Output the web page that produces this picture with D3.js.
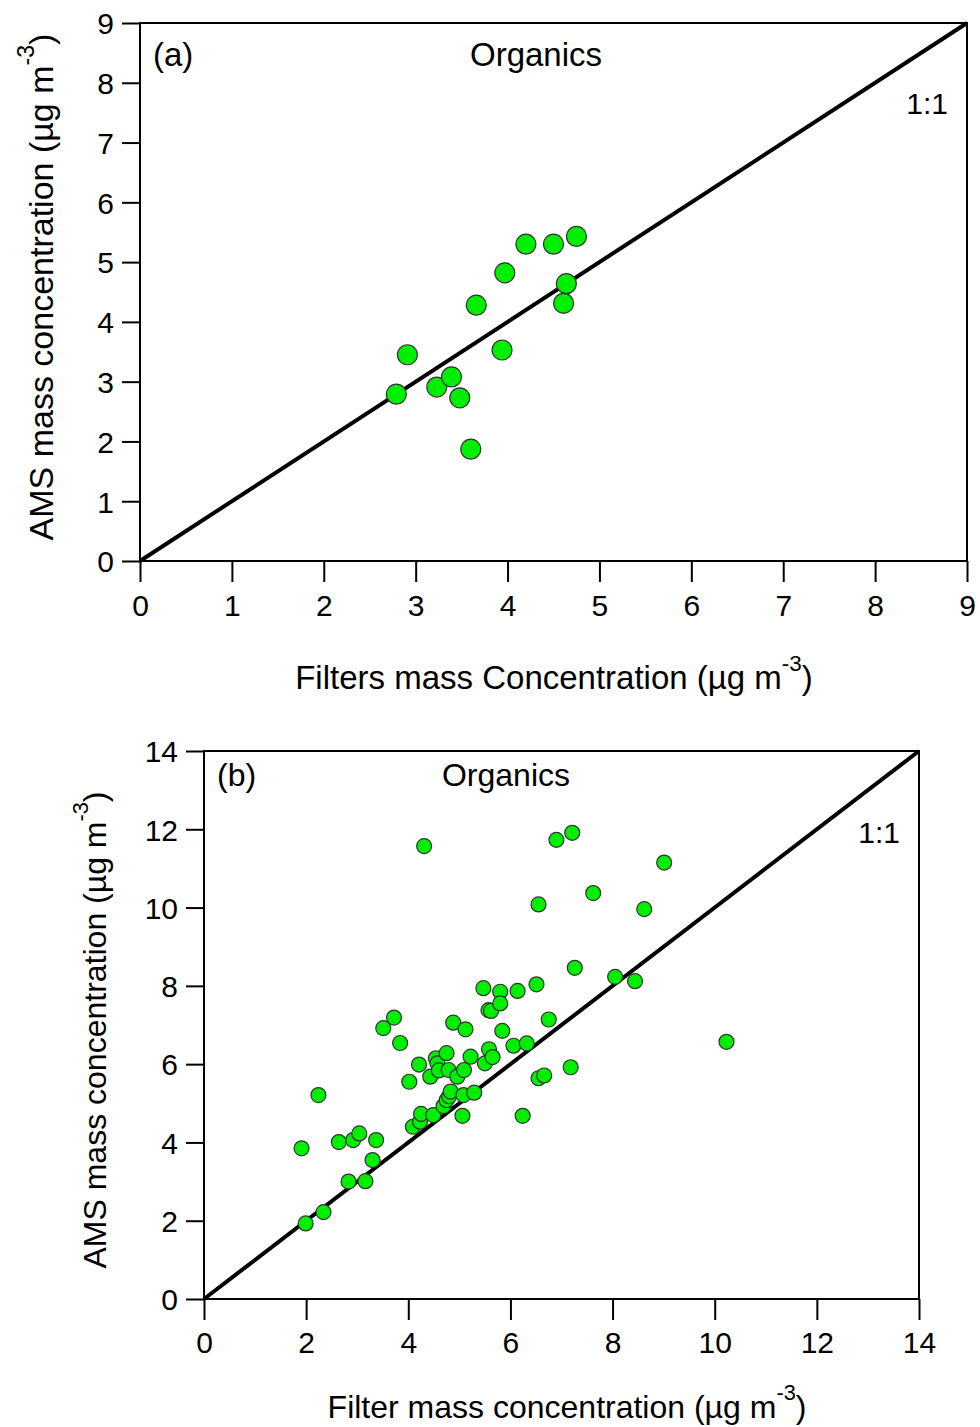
<!DOCTYPE html>
<html>
<head>
<meta charset="utf-8">
<script src="https://cdn.jsdelivr.net/npm/d3@7"></script>
<style>
  body { margin: 0; background: #fff; }
  svg { display: block; font-family: "Liberation Sans", Arial, sans-serif; }
  .tick text { font-size: 30px; fill: #000; }
</style>
</head>
<body>
<div class="chart"></div>
<script>
var svgWidth = 980;
var svgHeight = 1427;

// panel (a): filter vs AMS organics
var filterA = [2.79, 2.91, 3.23, 3.39, 3.48, 3.60, 3.66, 3.94, 3.97, 4.20, 4.50, 4.75, 4.64, 4.61];
var amsA    = [2.79, 3.45, 2.91, 3.08, 2.73, 1.87, 4.28, 3.53, 4.82, 5.30, 5.30, 5.43, 4.64, 4.31];
var ticksA = [0, 1, 2, 3, 4, 5, 6, 7, 8, 9];

// panel (b)
var filterB = [1.91, 1.99, 2.24, 2.34, 2.64, 2.83, 2.92, 3.04, 3.16, 3.30,
               3.37, 3.51, 3.72, 3.84, 4.02, 4.09, 4.21, 4.23, 4.25, 4.31,
               4.43, 4.49, 4.54, 4.57, 4.60, 4.69, 4.75, 4.75, 4.79, 4.80,
               4.83, 4.88, 4.96, 5.06, 5.08, 5.09, 5.12, 5.22, 5.29, 5.47,
               5.50, 5.57, 5.62, 5.58, 5.65, 5.80, 5.80, 5.84, 6.06, 6.14,
               6.24, 6.32, 6.51, 6.55, 6.55, 6.66, 6.75, 6.90, 7.18, 7.21,
               7.26, 7.62, 8.05, 8.44, 8.62, 9.01, 10.23];
var amsB    = [3.85, 1.93, 5.21, 2.22, 4.01, 3.00, 4.06, 4.23, 3.01, 3.55,
               4.06, 6.92, 7.19, 6.54, 5.55, 4.40, 5.99, 4.53, 4.73, 11.57,
               5.68, 4.70, 6.15, 6.02, 5.84, 4.93, 6.28, 5.08, 5.85, 5.18,
               5.30, 7.06, 5.68, 4.68, 5.21, 5.85, 6.89, 6.19, 5.27, 7.94,
               6.02, 7.38, 7.36, 6.38, 6.18, 7.85, 7.55, 6.85, 6.47, 7.87,
               4.68, 6.53, 8.04, 10.08, 5.64, 5.71, 7.14, 11.73, 5.92, 11.91,
               8.46, 10.37, 8.23, 8.12, 9.96, 11.15, 6.57];
var ticksB = [0, 2, 4, 6, 8, 10, 12, 14];

var svg = d3.select(".chart")
  .append("svg")
  .attr("width", svgWidth)
  .attr("height", svgHeight);

function addTitle(g, txt, fs, attrs) {
  var t = g.append("text").attr("font-size", fs).attr("text-anchor", "middle");
  Object.keys(attrs).forEach(k => t.attr(k, attrs[k]));
  t.append("tspan").text(txt + " (\u00b5g m");
  t.append("tspan").attr("dy", -fs * 0.55).attr("font-size", fs * 0.68).text("-3");
  t.append("tspan").attr("dy", fs * 0.55).text(")");
  return t;
}

function drawPanel(p) {
  var g = svg.append("g");
  var x = d3.scaleLinear().domain([0, p.max]).range([p.left, p.right]);
  var y = d3.scaleLinear().domain([0, p.max]).range([p.bottom, p.top]);

  var xAxis = g.append("g")
    .attr("transform", `translate(0, ${p.bottom})`)
    .call(d3.axisBottom(x).tickValues(p.ticks).tickSize(21).tickSizeOuter(0).tickPadding(p.xPad));
  var yAxis = g.append("g")
    .attr("transform", `translate(${p.left}, 0)`)
    .call(d3.axisLeft(y).tickValues(p.ticks).tickSize(18).tickSizeOuter(0).tickPadding(8));
  [xAxis, yAxis].forEach(function(a) {
    a.select(".domain").remove();
    a.selectAll(".tick line").attr("stroke", "#000").attr("stroke-width", 2);
  });
  yAxis.selectAll(".tick text").attr("dy", "0.36em");

  // frame
  g.append("rect")
    .attr("x", p.left).attr("y", p.top)
    .attr("width", p.right - p.left).attr("height", p.bottom - p.top)
    .attr("fill", "none").attr("stroke", "#000").attr("stroke-width", 2);

  // 1:1 line
  g.append("line")
    .attr("x1", x(0)).attr("y1", y(0))
    .attr("x2", x(p.max)).attr("y2", y(p.max))
    .attr("stroke", "#000").attr("stroke-width", 4);

  var pts = p.xs.map(function(v, i) { return { fx: v, am: p.ys[i] }; });
  g.selectAll("circle")
    .data(pts)
    .enter()
    .append("circle")
    .attr("cx", d => x(d.fx))
    .attr("cy", d => y(d.am))
    .attr("r", p.r)
    .attr("fill", "#00ee00")
    .attr("stroke", "#333")
    .attr("stroke-width", 1.2);

  g.append("text").attr("x", p.left + 13).attr("y", p.labelY)
    .attr("font-size", p.labFs).text(p.tag);
  g.append("text").attr("x", p.orgX).attr("y", p.labelY)
    .attr("font-size", p.labFs).attr("text-anchor", "middle").text("Organics");
  g.append("text").attr("x", p.right - 19).attr("y", p.oneY)
    .attr("font-size", 30).attr("text-anchor", "end").text("1:1");

  addTitle(g, p.xTitle, p.xFs, { x: p.xTitleX, y: p.xTitleY });
  addTitle(g, "AMS mass concentration", p.yFs,
    { transform: `translate(${p.yTitleX}, ${p.yTitleY}) rotate(-90)` });
}

drawPanel({
  left: 140, right: 967, top: 23, bottom: 561, max: 9, ticks: ticksA, xPad: 13,
  xs: filterA, ys: amsA, r: 10, tag: "(a)", orgX: 536, labelY: 66, labFs: 33, oneY: 114,
  xTitle: "Filters mass Concentration", xFs: 33, xTitleX: 554, xTitleY: 689,
  yFs: 34, yTitleX: 53, yTitleY: 287
});

drawPanel({
  left: 204, right: 919, top: 751, bottom: 1299, max: 14, ticks: ticksB, xPad: 12,
  xs: filterB, ys: amsB, r: 7.5, tag: "(b)", orgX: 506, labelY: 786, labFs: 32, oneY: 843,
  xTitle: "Filter mass concentration", xFs: 32, xTitleX: 567, xTitleY: 1418,
  yFs: 32, yTitleX: 106, yTitleY: 1030
});
</script>
</body>
</html>
